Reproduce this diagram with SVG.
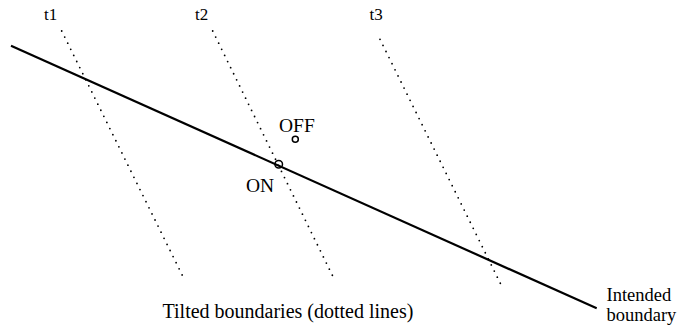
<svg xmlns="http://www.w3.org/2000/svg" width="681" height="331" viewBox="0 0 681 331">
<style>
.txt{font-family:"Liberation Serif","Times New Roman",serif;fill:#000}
.t{font-size:17px}
.lbl{font-size:19.5px}
.cap{font-size:20px}
.main{stroke:#000;stroke-width:2.2;fill:none}
.dot{stroke:#000;stroke-width:1.8;stroke-linecap:round;stroke-dasharray:0 6.8;fill:none}
.pt{stroke:#000;stroke-width:1.5;fill:none}
</style>
<rect width="681" height="331" fill="#fff"/>
<g id="connectors">
<line id="intended" class="main" x1="11" y1="45.7" x2="596.7" y2="308.3"/>
<line id="t1-line" class="dot" x1="61.7" y1="31" x2="185" y2="280.7"/>
<line id="t2-line" class="dot" x1="212.7" y1="31" x2="335" y2="280.7"/>
<line id="t3-line" class="dot" x1="380" y1="39.3" x2="503.3" y2="289.3"/>
</g>
<g id="t1"><text class="txt t" x="44" y="20">t1</text></g>
<g id="t2"><text class="txt t" x="195" y="20">t2</text></g>
<g id="t3"><text class="txt t" x="369.5" y="20">t3</text></g>
<g id="off"><circle class="pt" cx="295.3" cy="139.3" r="3"/><text class="txt lbl" x="279" y="131.7">OFF</text></g>
<g id="on"><circle class="pt" cx="278.7" cy="164.3" r="3.8"/><text class="txt lbl" x="246" y="191.7">ON</text></g>
<g id="caption"><text class="txt cap" x="162.5" y="318.3">Tilted boundaries (dotted lines)</text></g>
<g id="intended-label"><text class="txt lbl" x="606.5" y="300.7" style="font-size:18.5px">Intended</text><text class="txt lbl" x="606.5" y="320.5" style="font-size:18.5px">boundary</text></g>
</svg>
